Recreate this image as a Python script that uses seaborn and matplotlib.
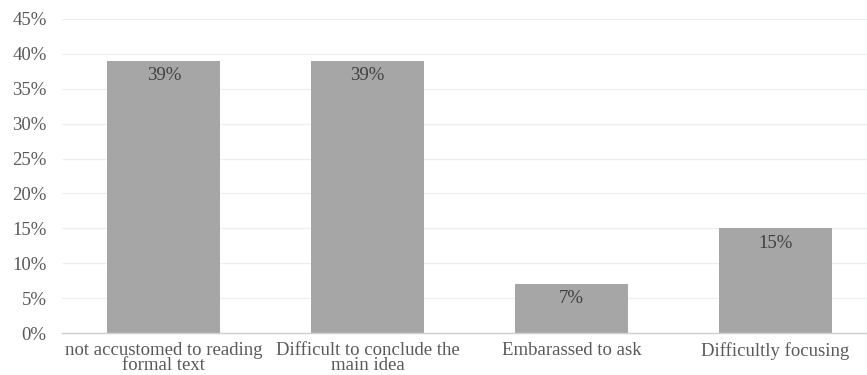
import matplotlib
matplotlib.use("Agg")
import matplotlib.pyplot as plt
import seaborn as sns
import pandas as pd
from matplotlib.ticker import PercentFormatter

categories = [
    "not accustomed to reading\nformal text",
    "Difficult to conclude the\nmain idea",
    "Embarassed to ask",
    "Difficultly focusing",
]
shares = [0.39, 0.39, 0.07, 0.15]
y_ticks = [0.00, 0.05, 0.10, 0.15, 0.20, 0.25, 0.30, 0.35, 0.40, 0.45]

df = pd.DataFrame({"reason": categories, "share": shares})

sns.set_theme(style="white")
plt.rcParams["font.family"] = ["Liberation Serif", "DejaVu Serif"]

fig = plt.figure(figsize=(8.67, 3.75), dpi=100)
ax = fig.add_axes([62 / 867, 1 - 333 / 375, (867 - 62) / 867, (333 - 19) / 375])

sns.barplot(data=df, x="reason", y="share", color="#A6A6A6", saturation=1,
            width=0.555, ax=ax)
for p in ax.patches:
    p.set_edgecolor("none")

ax.set_xlim(-0.5, 3.45)
ax.set_ylim(0, 0.45)
ax.set_yticks(y_ticks)
ax.yaxis.set_major_formatter(PercentFormatter(1.0, decimals=0))
ax.set_xlabel("")
ax.set_ylabel("")

ax.grid(axis="y", color="#EEEEEE", linewidth=0.9)
ax.set_axisbelow(True)
for side in ["top", "right", "left"]:
    ax.spines[side].set_visible(False)
ax.spines["bottom"].set_color("#D0D0D0")
ax.spines["bottom"].set_linewidth(1.0)

ax.tick_params(axis="both", length=0, colors="#595959", labelsize=13.5)
ax.tick_params(axis="y", pad=11)
ax.tick_params(axis="x", pad=6.5)
for lbl in ax.get_xticklabels():
    lbl.set_linespacing(0.85)

for i, v in enumerate(shares):
    ax.annotate(f"{v:.0%}", (i, v), xytext=(0, -4.5), textcoords="offset points",
                ha="center", va="top", fontsize=13.5, color="#404040")

fig.savefig("out.png", dpi=100)
